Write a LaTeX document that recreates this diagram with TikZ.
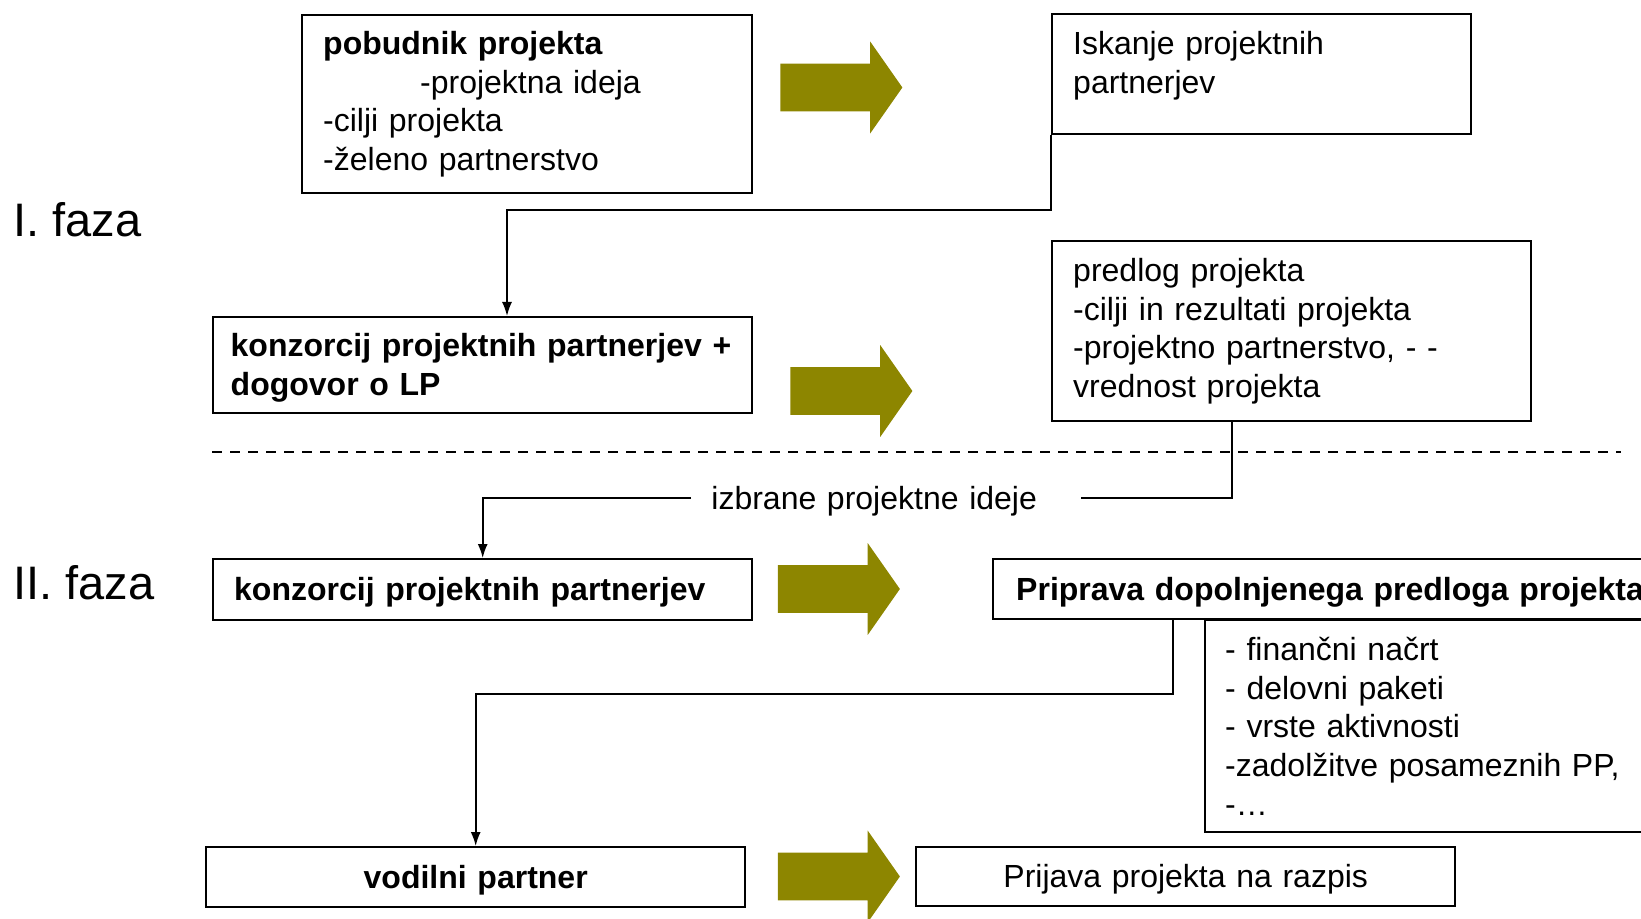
\documentclass[tikz,border=0pt]{standalone}
\usepackage{fontspec}
\setmainfont{Liberation Sans}
\usetikzlibrary{shapes.arrows, arrows.meta, positioning}

\begin{document}
\begin{tikzpicture}[x=0.5pt, y=-0.5pt,
        box/.style={draw, line width=1.2pt, anchor=north west, inner ysep=0pt, inner xsep=10.5pt,
                    align=left, font=\fontsize{16}{19.4}\selectfont},
        flow/.style={single arrow, fill=olive, draw=none, inner xsep=0pt, inner ysep=11.75pt,
                     minimum height=61pt, single arrow head extend=11pt, single arrow tip angle=110},
        conn/.style={line width=0.8pt, -{Latex[length=7pt,width=5pt]}},
        faza/.style={anchor=west, inner sep=0pt, font=\fontsize{23.5}{28}\selectfont}]
        \useasboundingbox (0,0) rectangle (1641,919);

        \node[box, text width=204pt, minimum height=89pt]   (pob)    at (301,14)
          {\textbf{pobudnik projekta}\\\hspace*{48.5pt}-projektna ideja\\-cilji projekta\\-želeno partnerstvo};
        \node[box, text width=188.5pt, text depth=31pt, minimum height=60pt] (isk) at (1051,13) {Iskanje projektnih\\partnerjev};
        \node[box, text width=252pt, inner xsep=8.75pt, text depth=20pt, minimum height=48pt] (konzLP) at (212,316)
          {\textbf{konzorcij projektnih partnerjev +}\\\textbf{dogovor o LP}};
        \node[box, text width=218.5pt, minimum height=90pt] (pred)  at (1051,240)
          {predlog projekta\\-cilji in rezultati projekta\\-projektno partnerstvo, - -\\vrednost projekta};
        \node[box, text width=248.5pt, text depth=0.5pt, minimum height=30.5pt] (konz2) at (212,558)
          {\textbf{konzorcij projektnih partnerjev}};
        \node[box, text width=333pt, inner xsep=11.5pt, text depth=0.5pt, minimum height=30pt] (prip) at (992,558)
          {\textbf{Priprava dopolnjenega predloga projekta}};
        \node[box, text width=228pt, inner xsep=10pt, minimum height=106pt] (list) at (1204,619)
          {- finančni načrt\\- delovni paketi\\- vrste aktivnosti\\-zadolžitve posameznih PP,\\-…};
        \node[box, align=center, text width=248.5pt, text depth=0.5pt, minimum height=30pt]   (vod)  at (205,846)
          {\textbf{vodilni partner}};
        \node[box, align=center, text width=248.5pt, text depth=0.5pt, minimum height=29.5pt] (prij) at (915,846)
          {Prijava projekta na razpis};

        \node[flow] (a1) at (833,87.5)  {};
        \node[flow] (a2) at (843,391)   {};
        \node[flow] (a3) at (830.5,589) {};
        \node[flow] (a4) at (830.5,876.5) {};

        \node[faza] (f1) at (13,220) {I. faza};
        \node[faza] (f2) at (13,583) {II. faza};

        \node[anchor=west, inner xsep=10pt, inner ysep=0pt, text width=174.5pt, align=left, text depth=0.5pt,
              font=\fontsize{16}{19.4}\selectfont] (izb) at (691,498) {izbrane projektne ideje};

        \draw[dashed, line width=0.8pt, dash pattern=on 5pt off 4pt] (212,452) -- (1621,452);

        \coordinate (k1) at (507,210);
        \coordinate (k2) at (1232,498);
        \coordinate (k3) at (1173,694);
        \draw[conn] (isk.south west) |- (k1) -- (k1 |- konzLP.north);
        \draw[line width=0.8pt] (pred.south -| k2) -- (k2) -- (izb.east);
        \draw[conn] (izb.west) -| (konz2.north);
        \draw[conn] (prip.south -| k3) -- (k3) -| (vod.north);
      \end{tikzpicture}
\end{document}
